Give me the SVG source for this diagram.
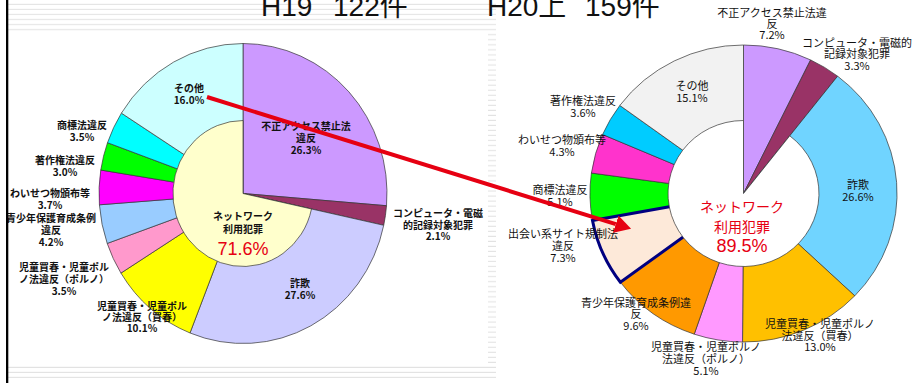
<svg xmlns="http://www.w3.org/2000/svg" width="913" height="383" viewBox="0 0 913 383">
<defs>
<style>
.bg{fill:#fff}
.sl path{stroke:#333;stroke-width:0.7;vector-effect:non-scaling-stroke}
.net{stroke:#e60012;stroke-width:4;stroke-linejoin:miter;vector-effect:non-scaling-stroke}
.title{font-family:"Liberation Sans","Noto Sans CJK JP",sans-serif;font-size:28px;fill:#111}
.ll{font-family:"Noto Sans CJK JP",sans-serif;font-size:10px;font-weight:700;fill:#111;text-anchor:middle}
.rl{font-family:"Noto Sans CJK JP",sans-serif;font-size:11px;fill:#111;text-anchor:middle}
.rn{font-family:"Noto Sans CJK JP",sans-serif;font-size:14px;fill:#e60012;text-anchor:middle}
.pct{font-family:"Liberation Sans","Noto Sans CJK JP",sans-serif;font-size:18px;fill:#e60012;text-anchor:middle}
.arrow{stroke:#e60012;stroke-width:4;fill:none}
</style>
<pattern id="stripes" patternUnits="userSpaceOnUse" width="8" height="5.04">
<rect y="4" width="8" height="1.6" fill="#e2e2e2"/>
</pattern>
<marker id="ah" markerUnits="userSpaceOnUse" markerWidth="17" markerHeight="20" refX="0" refY="9" orient="auto">
<path d="M0,0 L16,9 L0,18 Z" fill="#e60012"/>
</marker>
</defs>
<rect class="bg" width="913" height="383"/>
<g id="background">
<rect x="8" y="0" width="488" height="32" fill="url(#stripes)"/>
<rect x="488" y="33" width="8" height="332" fill="url(#stripes)"/>
<rect x="8" y="365" width="488" height="16" fill="url(#stripes)"/>
</g>
<g id="titles">
<text class="title" x="261" y="16">H19</text>
<text class="title" x="333" y="16">122件</text>
<text class="title" x="487" y="16">H20上</text>
<text class="title" x="585" y="16">159件</text>
</g>
<g id="pie-h19" class="sl" transform="translate(243,193.5) scale(0.96,1)">
<g id="h19-fusei"><path fill="#cc99ff" d="M0,0 L0,-150 A150,150 0 0 1 149.5,12.24 Z"/></g>
<g id="h19-computer"><path fill="#993366" d="M0,0 L149.5,12.24 A150,150 0 0 1 146.59,31.8 Z"/></g>
<g id="h19-sagi"><path fill="#ccccff" d="M0,0 L146.59,31.8 A150,150 0 0 1 -55.22,139.47 Z"/></g>
<g id="h19-baishun"><path fill="#ffff00" d="M0,0 L-55.22,139.47 A150,150 0 0 1 -127.15,79.58 Z"/></g>
<g id="h19-porno"><path fill="#ff99cc" d="M0,0 L-127.15,79.58 A150,150 0 0 1 -141.45,49.93 Z"/></g>
<g id="h19-seishonen"><path fill="#99ccff" d="M0,0 L-141.45,49.93 A150,150 0 0 1 -149.57,11.3 Z"/></g>
<g id="h19-waisetsu"><path fill="#ff00ff" d="M0,0 L-149.57,11.3 A150,150 0 0 1 -148.15,-23.46 Z"/></g>
<g id="h19-chosakuken"><path fill="#00ff00" d="M0,0 L-148.15,-23.46 A150,150 0 0 1 -141.13,-50.81 Z"/></g>
<g id="h19-shohyo"><path fill="#00ffff" d="M0,0 L-141.13,-50.81 A150,150 0 0 1 -126.65,-80.37 Z"/></g>
<g id="h19-sonota"><path fill="#ccffff" d="M0,0 L-126.65,-80.37 A150,150 0 0 1 0,-150 Z"/></g>
<g id="h19-network"><path class="net" fill="#ffffcc" d="M0,0 L71.34,15.48 A73,73 0 1 1 0,-73 Z"/></g>
</g>
<g id="pie-h20" class="sl" transform="translate(743.5,193.5) scale(1.034,1)">
<g id="h20-fusei"><path fill="#cc99ff" d="M0,0 L0,-148.5 A148.5,148.5 0 0 1 64.91,-133.56 Z"/></g>
<g id="h20-computer"><path fill="#993366" d="M0,0 L64.91,-133.56 A148.5,148.5 0 0 1 91.02,-117.34 Z"/></g>
<g id="h20-sagi"><path fill="#70d4ff" d="M0,0 L91.02,-117.34 A148.5,148.5 0 0 1 107.61,102.34 Z"/></g>
<g id="h20-baishun"><path fill="#ffc000" d="M0,0 L107.61,102.34 A148.5,148.5 0 0 1 -0.93,148.5 Z"/></g>
<g id="h20-porno"><path fill="#ff99ff" d="M0,0 L-0.93,148.5 A148.5,148.5 0 0 1 -47.66,140.66 Z"/></g>
<g id="h20-seishonen"><path fill="#ff9900" d="M0,0 L-47.66,140.66 A148.5,148.5 0 0 1 -119.03,88.79 Z"/></g>
<g id="h20-shohyo"><path fill="#00ff00" d="M0,0 L-146.05,26.91 A148.5,148.5 0 0 1 -147.08,-20.46 Z"/></g>
<g id="h20-waisetsu"><path fill="#ff33cc" d="M0,0 L-147.08,-20.46 A148.5,148.5 0 0 1 -136.29,-58.98 Z"/></g>
<g id="h20-chosakuken"><path fill="#00ccff" d="M0,0 L-136.29,-58.98 A148.5,148.5 0 0 1 -119.6,-88.05 Z"/></g>
<g id="h20-sonota"><path fill="#f2f2f2" d="M0,0 L-119.6,-88.05 A148.5,148.5 0 0 1 0,-148.5 Z"/></g>
<g id="h20-deai"><path fill="#fde9d9" style="stroke:#000080;stroke-width:3" d="M0,0 L-119.03,88.79 A148.5,148.5 0 0 1 -146.05,26.91 Z"/></g>
<g id="h20-network"><path class="net" fill="#ffffff" d="M0,0 L44.74,-57.68 A73,73 0 1 1 0,-73 Z"/></g>
</g>
<g id="labels-h19">
<g id="lab-h19-sonota"><text class="ll" x="189" y="92">その他</text><text class="ll" x="189" y="104">16.0%</text></g>
<g id="lab-h19-shohyo"><text class="ll" x="82" y="129">商標法違反</text><text class="ll" x="82" y="141">3.5%</text></g>
<g id="lab-h19-chosakuken"><text class="ll" x="65" y="164">著作権法違反</text><text class="ll" x="65" y="176">3.0%</text></g>
<g id="lab-h19-fusei"><text class="ll" x="306" y="130">不正アクセス禁止法</text><text class="ll" x="306" y="142">違反</text><text class="ll" x="306" y="154">26.3%</text></g>
<g id="lab-h19-waisetsu"><text class="ll" x="50" y="197">わいせつ物頒布等</text><text class="ll" x="50" y="209">3.7%</text></g>
<g id="lab-h19-seishonen"><text class="ll" x="51" y="222">青少年保護育成条例</text><text class="ll" x="51" y="234">違反</text><text class="ll" x="51" y="246">4.2%</text></g>
<g id="lab-h19-porno"><text class="ll" x="64" y="271">児童買春・児童ポル</text><text class="ll" x="64" y="283">ノ法違反（ポルノ）</text><text class="ll" x="64" y="295">3.5%</text></g>
<g id="lab-h19-baishun"><text class="ll" x="142" y="310">児童買春・児童ポル</text><text class="ll" x="142" y="321">ノ法違反（買春）</text><text class="ll" x="142" y="332">10.1%</text></g>
<g id="lab-h19-sagi"><text class="ll" x="300" y="287">詐欺</text><text class="ll" x="300" y="299">27.6%</text></g>
<g id="lab-h19-computer"><text class="ll" x="438" y="217">コンピュータ・電磁</text><text class="ll" x="438" y="229">的記録対象犯罪</text><text class="ll" x="438" y="240">2.1%</text></g>
<g id="lab-h19-network"><text class="ll" x="243" y="220">ネットワーク</text><text class="ll" x="243" y="233">利用犯罪</text><text class="pct" x="243" y="255">71.6%</text></g>
</g>
<g id="labels-h20">
<g id="lab-h20-fusei"><text class="rl" x="772" y="17">不正アクセス禁止法違</text><text class="rl" x="772" y="28">反</text><text class="rl" x="772" y="39">7.2%</text></g>
<g id="lab-h20-computer"><text class="rl" x="857" y="47">コンピュータ・電磁的</text><text class="rl" x="857" y="58">記録対象犯罪</text><text class="rl" x="857" y="70">3.3%</text></g>
<g id="lab-h20-sonota"><text class="rl" x="692" y="90">その他</text><text class="rl" x="692" y="102">15.1%</text></g>
<g id="lab-h20-chosakuken"><text class="rl" x="583" y="105">著作権法違反</text><text class="rl" x="583" y="117">3.6%</text></g>
<g id="lab-h20-waisetsu"><text class="rl" x="562" y="144">わいせつ物頒布等</text><text class="rl" x="562" y="156">4.3%</text></g>
<g id="lab-h20-shohyo"><text class="rl" x="560" y="194">商標法違反</text><text class="rl" x="560" y="206">5.1%</text></g>
<g id="lab-h20-deai"><text class="rl" x="563" y="238">出会い系サイト規制法</text><text class="rl" x="563" y="250">違反</text><text class="rl" x="563" y="262">7.3%</text></g>
<g id="lab-h20-sagi"><text class="rl" x="858" y="189">詐欺</text><text class="rl" x="858" y="201">26.6%</text></g>
<g id="lab-h20-seishonen"><text class="rl" x="636" y="307">青少年保護育成条例違</text><text class="rl" x="636" y="318">反</text><text class="rl" x="636" y="330">9.6%</text></g>
<g id="lab-h20-baishun"><text class="rl" x="820" y="328">児童買春・児童ポルノ</text><text class="rl" x="820" y="340">法違反（買春）</text><text class="rl" x="820" y="351">13.0%</text></g>
<g id="lab-h20-porno"><text class="rl" x="706" y="351">児童買春・児童ポルノ</text><text class="rl" x="706" y="363">法違反（ポルノ）</text><text class="rl" x="706" y="375">5.1%</text></g>
<g id="lab-h20-network"><text class="rn" x="742" y="212">ネットワーク</text><text class="rn" x="742" y="232">利用犯罪</text><text class="pct" x="742" y="252">89.5%</text></g>
</g>
<rect id="frame-line" x="6" y="0" width="2.3" height="383" fill="#000"/>
<g id="connectors">
<path class="arrow" d="M207,97 L615.8,224.1" marker-end="url(#ah)"/>
</g>
</svg>
